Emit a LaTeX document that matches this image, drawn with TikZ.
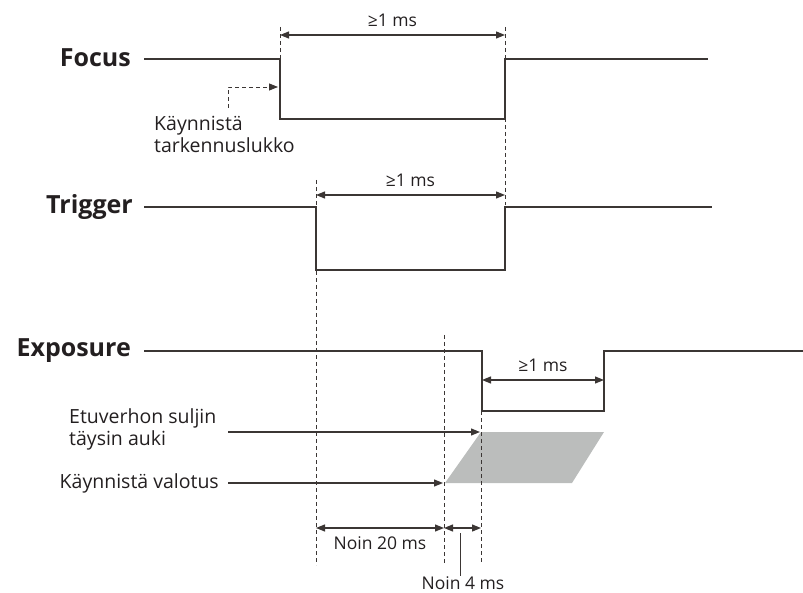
\documentclass[tikz,border=0pt]{standalone}
\usepackage{fontspec}
\setmainfont{Open Sans}
\usetikzlibrary{arrows.meta, positioning}
\definecolor{linegray}{HTML}{3B3634}
\definecolor{textdark}{HTML}{231F20}
\definecolor{shadegray}{HTML}{BBBDBC}

\tikzset{
    wave/.style={draw=linegray, line width=2pt},
    dimline/.style={draw=linegray, line width=1.2pt,
        {Triangle[length=9pt,width=7pt]}-{Triangle[length=9pt,width=7pt]}},
    pointer/.style={draw=linegray, line width=1.2pt, -{Triangle[length=9pt,width=7pt]}},
    guide/.style={draw=linegray, line width=0.8pt, dash pattern=on 4pt off 3pt},
    signame/.style={font=\bfseries\fontsize{25}{28}\selectfont, text=textdark, inner sep=0pt, anchor=east},
    note/.style={font=\fontsize{19.5}{22}\selectfont, text=textdark, inner sep=0pt, align=left},
    dimlabel/.style={font=\fontsize{17.5}{20}\selectfont, text=textdark, inner sep=0pt}
}

\begin{document}
\begin{tikzpicture}[x=1pt, y=-1pt]
        \useasboundingbox (0,0) rectangle (803,593);
        % Signal names
        \node[signame] (focus) at (131,58) {Focus};
        \node[signame] (trigger) at (133,207) {Trigger};
        \node[signame] (exposure) at (131,351) {Exposure};
        % Draw waveforms
        \draw[wave] (144,59) -- (280,59) -- (280,119) -- (505,119) -- (505,59) -- (708,59);
        \draw[wave] (144,207) -- (316,207) -- (316,270) -- (505,270) -- (505,207) -- (712,207);
        \draw[wave] (144,351) -- (482,351) -- (482,411) -- (604,411) -- (604,351) -- (803,351);
        % Exposure window
        \fill[shadegray] (445,483) -- (481,432) -- (604,432) -- (572,483) -- cycle;
        % Dashed guide lines
        \draw[guide] (280,27) -- (280,59);
        \draw[guide] (505,27) -- (505,205);
        \draw[guide] (316,180) -- (316,565);
        \draw[guide] (444,335) -- (444,563);
        \draw[guide] (481,411) -- (481,563);
        % Time spans
        \coordinate (fa) at (280,35);
        \coordinate (fb) at (505,35);
        \draw[dimline] (fa) -- (fb) node[dimlabel, midway, above=8pt] (fspan) {≥1 ms};
        \coordinate (ta) at (316,195);
        \coordinate (tb) at (505,195);
        \draw[dimline] (ta) -- (tb) node[dimlabel, midway, above=8pt] (tspan) {≥1 ms};
        \coordinate (ea) at (482,380);
        \coordinate (eb) at (604,380);
        \draw[dimline] (ea) -- (eb) node[dimlabel, midway, above=8pt] (espan) {≥1 ms};
        \coordinate (na) at (316,528);
        \coordinate (nb) at (444,528);
        \coordinate (nc) at (481,528);
        \draw[dimline] (na) -- (nb) node[dimlabel, midway, below=8pt] (twenty) {Noin 20 ms};
        \draw[dimline] (nb) -- (nc);
        \node[dimlabel, anchor=north] (four) at (463,576) {Noin 4 ms};
        \coordinate (lead) at (460,533);
        \draw[linegray, line width=1pt] (lead) -- (four.north -| lead);
        % Notes and their pointers
        \node[note, anchor=north west] (lock) at (154,116) {Käynnistä\\tarkennuslukko};
        \coordinate (lockfrom) at (228,108);
        \coordinate (lockto) at (278,87);
        \draw[guide, -{Triangle[length=9pt,width=7pt]}] (lockfrom) |- (lockto);
        \node[note, anchor=north west] (curtain) at (69,408) {Etuverhon suljin\\täysin auki};
        \coordinate (curtfrom) at (228,432);
        \coordinate (curtto) at (480,432);
        \draw[pointer] (curtfrom) -- (curtto);
        \node[note, anchor=east] (start) at (219,483) {Käynnistä valotus};
        \coordinate (startfrom) at (228,483);
        \coordinate (startto) at (443,483);
        \draw[pointer] (startfrom) -- (startto);
    \end{tikzpicture}
\end{document}
